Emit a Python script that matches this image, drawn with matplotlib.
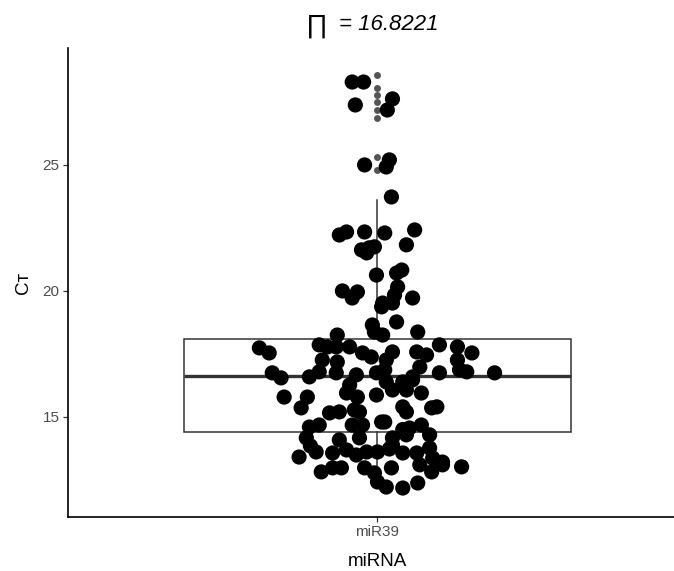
import matplotlib
matplotlib.use("Agg")
import matplotlib.pyplot as plt

plt.rcParams['font.family'] = ['Liberation Sans', 'DejaVu Sans']

category = "miR39"
pi_value = 16.8221

# box summary (Ct)
q1, med, q3 = 14.40, 16.63, 18.10
whisker_lo, whisker_hi = 12.20, 23.62
outliers = [28.57, 28.06, 27.78, 27.50, 27.18, 26.87, 25.32, 24.80]

# individual Ct values with their horizontal jitter
ct = [28.29, 28.29, 27.38, 27.62, 27.18, 25.00, 25.20, 24.92, 23.73,
      22.22, 22.34, 22.34, 22.30, 22.42, 21.63, 21.71, 21.75, 21.51, 21.83,
      20.63, 20.71, 20.83, 20.00, 19.96, 19.72, 20.16, 19.84, 19.72, 19.52,
      19.52, 19.37, 18.77, 18.65, 18.37, 18.25, 18.25, 18.37,
      17.74, 17.54, 17.86, 17.78, 17.78, 17.78, 17.54, 17.38, 17.58, 17.26,
      17.58, 17.46, 17.86, 17.78, 17.54, 17.26, 17.26, 17.18,
      16.75, 16.55, 16.59, 16.79, 16.75, 16.67, 16.75, 16.87, 16.59, 16.98,
      16.75, 16.87, 16.79, 16.75, 16.27, 16.39, 16.39, 16.47,
      15.79, 15.79, 15.36, 15.95, 15.79, 15.87, 16.07, 16.07, 15.95, 15.16,
      15.20, 15.20, 15.40, 15.20, 15.36, 15.40, 14.60, 14.68, 14.68, 14.68,
      14.80, 14.56, 14.68, 14.17, 14.09, 14.17, 14.17, 14.29, 14.29,
      13.41, 13.61, 13.57, 13.49, 13.61, 13.61, 13.89, 13.57, 13.57, 13.77,
      13.37, 13.21, 12.82, 12.98, 12.98, 12.98, 12.78, 12.98, 13.10, 12.82,
      13.10, 13.02, 12.42, 12.22, 12.18, 12.38,
      13.73, 14.50, 14.80, 15.28, 13.85, 13.69]
jitter = [-0.049, -0.027, -0.043, 0.029, 0.019, -0.025, 0.023, 0.017, 0.027,
          -0.074, -0.060, -0.025, 0.014, 0.072, -0.031, -0.016, -0.006, -0.021, 0.056,
          -0.002, 0.037, 0.047, -0.068, -0.039, -0.049, 0.039, 0.033, 0.068, 0.010,
          0.029, 0.008, 0.037, -0.010, -0.006, 0.010, -0.078, 0.078,
          -0.229, -0.210, -0.113, -0.097, -0.080, -0.054, -0.029, -0.012, 0.029, 0.017,
          0.076, 0.095, 0.120, 0.155, 0.183, 0.155, -0.107, -0.078,
          -0.204, -0.187, -0.132, -0.113, -0.080, -0.041, -0.002, 0.014, 0.068, 0.082,
          0.120, 0.159, 0.173, 0.227, -0.054, 0.017, 0.049, 0.068,
          -0.181, -0.136, -0.148, -0.060, -0.039, -0.002, 0.029, 0.056, 0.085, -0.093,
          -0.074, -0.035, 0.049, 0.056, 0.105, 0.115, -0.132, -0.113, -0.049, -0.029,
          0.014, 0.062, 0.085, -0.138, -0.074, -0.035, 0.029, 0.056, 0.101,
          -0.152, -0.119, -0.087, -0.041, -0.021, 0.000, 0.029, 0.049, 0.076, 0.101,
          0.107, 0.126, -0.109, -0.087, -0.070, -0.025, -0.006, 0.027, 0.082, 0.105,
          0.126, 0.163, 0.000, 0.017, 0.049, 0.078,
          0.023, 0.049, 0.008, -0.045, -0.130, -0.060]

fig = plt.figure(figsize=(6.74, 5.71), dpi=100)
ax = fig.add_axes([68 / 674, 54 / 571, 619 / 674, 469 / 571])

stats = [dict(med=med, q1=q1, q3=q3, whislo=whisker_lo, whishi=whisker_hi,
              fliers=outliers, label=category)]
ax.bxp(stats, positions=[1], widths=0.75, patch_artist=True, showcaps=False,
       boxprops=dict(facecolor="white", edgecolor="#333333", linewidth=1.1),
       medianprops=dict(color="#333333", linewidth=2.4),
       whiskerprops=dict(color="#333333", linewidth=1.1),
       flierprops=dict(marker="o", markersize=5, markerfacecolor="#555555",
                       markeredgecolor="none"),
       zorder=1)

xs = [1 + j for j in jitter]
ax.scatter(xs, ct, s=120, color="black", edgecolors="none", zorder=3)

ax.set_xlim(0.4, 1.6)
ax.set_ylim(11.03, 29.64)
ax.set_yticks([15, 20, 25])
ax.set_xticks([1])
ax.set_xticklabels([category])

for side in ("top", "right"):
    ax.spines[side].set_visible(False)
for side in ("left", "bottom"):
    ax.spines[side].set_linewidth(1.2)
    ax.spines[side].set_color("black")

ax.tick_params(axis="both", length=3.5, width=0.9, color="#333333",
               labelsize=11, labelcolor="#4d4d4d", pad=2.5)
ax.set_xlabel("miRNA", fontsize=13.5, labelpad=10)
ax.set_ylabel("Cт", fontsize=13.5, labelpad=8)

# title: product sign upright, value in italics
fig.text(328 / 674, 1 - 33 / 571, "\u220f", fontsize=19, ha="right", va="baseline")
fig.text(339 / 674, 1 - 30 / 571, "= %.4f" % pi_value, fontsize=16,
         style="italic", ha="left", va="baseline")

fig.savefig("out.png", dpi=100)
